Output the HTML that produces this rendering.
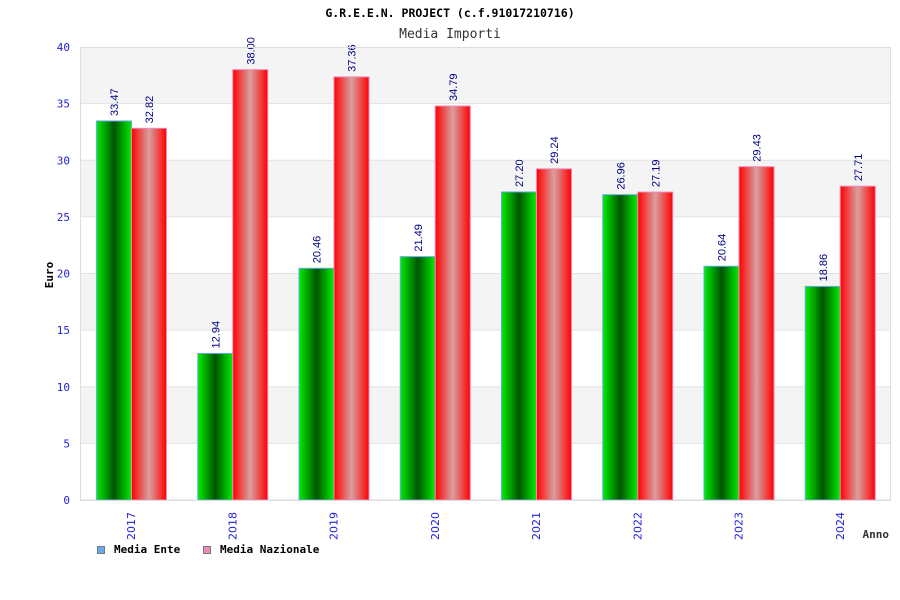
<!DOCTYPE html>
<html><head><meta charset="utf-8"><style>body{margin:0;background:#fff}svg{display:block}</style></head>
<body>
<svg id="c" width="900" height="600" xmlns="http://www.w3.org/2000/svg" font-family="'DejaVu Sans Mono','Liberation Mono',monospace">
<defs>
<linearGradient id="gG" x1="0" x2="1"><stop offset="0" stop-color="#00ee00"/><stop offset="0.5" stop-color="#005500"/><stop offset="1" stop-color="#00ee00"/></linearGradient>
<linearGradient id="gR" x1="0" x2="1"><stop offset="0" stop-color="#ff0000"/><stop offset="0.5" stop-color="#d8a0a0"/><stop offset="1" stop-color="#ff0000"/></linearGradient>
</defs>
<text x="450" y="17" text-anchor="middle" font-size="11.5" font-weight="bold" fill="#000">G.R.E.E.N. PROJECT (c.f.91017210716)</text>
<text x="450" y="38" text-anchor="middle" font-size="13" fill="#333">Media Importi</text>
<text transform="translate(53,275) rotate(-90)" text-anchor="middle" font-size="11" font-weight="bold">Euro</text>
<text x="889" y="538" text-anchor="end" font-size="11" font-weight="bold" fill="#333">Anno</text>
<g id="bands"></g><g id="ticks"></g><g id="bars"></g><g id="xl"></g>
<rect x="80.5" y="47.5" width="810" height="453" fill="none" stroke="#ddd"/>
<g font-size="11" font-weight="bold">
<rect x="97.5" y="546.5" width="7" height="7" fill="#66aaee" stroke="#777"/>
<text x="114" y="553">Media Ente</text>
<rect x="203.5" y="546.5" width="7" height="7" fill="#ee88bb" stroke="#777"/>
<text x="220" y="553">Media Nazionale</text>
</g>
</svg>
<script>
const years=["2017","2018","2019","2020","2021","2022","2023","2024"];
const ente=[33.47,12.94,20.46,21.49,27.20,26.96,20.64,18.86];
const nazionale=[32.82,38.00,37.36,34.79,29.24,27.19,29.43,27.71];
const yTicks=[0,5,10,15,20,25,30,35,40];
const NS="http://www.w3.org/2000/svg";
const L=80,R=890,T=47,B=500,yMax=40;
const y=v=>B-(v/yMax)*(B-T);
const gw=(R-L)/years.length;
function mk(tag,a,p){const e=document.createElementNS(NS,tag);for(const k in a)e.setAttribute(k,a[k]);p.appendChild(e);return e;}
const bands=document.getElementById('bands'),ticks=document.getElementById('ticks'),bars=document.getElementById('bars'),xl=document.getElementById('xl');
for(let i=0;i<yTicks.length-1;i++){
  const r=mk('rect',{x:L,y:y(yTicks[i+1]),width:R-L,height:y(yTicks[i])-y(yTicks[i+1]),fill:(i%2)?'#f4f4f4':'#fff'},bands);
  
  
  const ln=mk('line',{x1:L,x2:R,y1:y(yTicks[i]),y2:y(yTicks[i]),stroke:'#e2e2e2'},bands);
  
  
}
yTicks.forEach(t=>{
  const tx=mk('text',{x:70,y:y(t)+4,'text-anchor':'end','font-size':11,fill:'#2222dd'},ticks);
  tx.textContent=t;
  
  
});
function bar(v,x,fill,stroke,name){
  const r=mk('rect',{x:x+0.5,y:y(v),width:35,height:B-y(v),fill:fill,stroke:stroke,'stroke-width':1},bars);
  
  
  const t=mk('text',{transform:`translate(${x+22},${y(v)-5}) rotate(-90)`,'font-size':11,fill:'#000088','font-family':"'Liberation Sans',sans-serif"},bars);
  t.textContent=v.toFixed(2);
  
  
}
years.forEach((yr,i)=>{
  const gx=L+i*gw+16;
  bar(ente[i],gx,'url(#gG)','#66aaee','bar-ente-'+yr);
  bar(nazionale[i],gx+35,'url(#gR)','#ee88bb','bar-nazionale-'+yr);
  const t=mk('text',{transform:`translate(${gx+39},${512}) rotate(-90)`,'text-anchor':'end','font-size':11,fill:'#2222dd','font-family':"'DejaVu Sans',sans-serif"},xl);
  t.textContent=yr;
  
  
});
</script>
</body></html>
